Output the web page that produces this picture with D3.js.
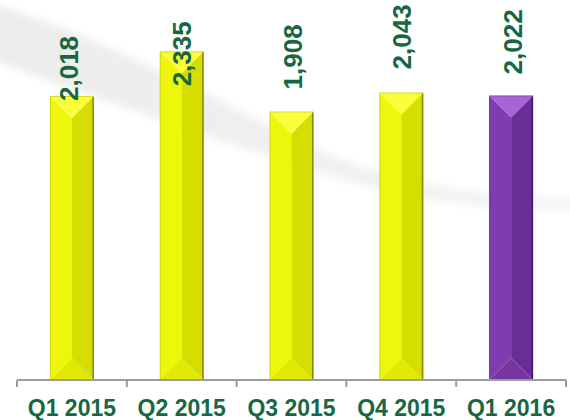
<!DOCTYPE html>
<html>
<head>
<meta charset="utf-8">
<script src="https://cdn.jsdelivr.net/npm/d3@7"></script>
<style>
  body { margin: 0; background: #fff; }
  svg { display: block; font-family: "Liberation Sans", Arial, sans-serif; }
</style>
</head>
<body>
<div id="container"></div>
<script>
const WIDTH = 570;
const HEIGHT = 420;
const AXIS_Y = 380;
const LEFT = 17;
const RIGHT = 566;

// data
var QUARTERS = ["Q1 2015", "Q2 2015", "Q3 2015", "Q4 2015", "Q1 2016"];
var VALUES = [2018, 2335, 1908, 2043, 2022];
var VALUE_LABELS = ["2,018", "2,335", "1,908", "2,043", "2,022"];
var HIGHLIGHT = ["Q1 2016"];

// label placement (px, relative to bar top / bar centre)
var LABEL_DY = [5, 35, -22, -23, -21];
var LABEL_DX = [6, 9, 10, 10, 11];

var PALETTE = {
    yellow: {left: "#edf70b", right: "#d5de00", top: "#fbff3a", bottom: "#e2e900", edge: "#8a8c00"},
    purple: {left: "#7e3cb0", right: "#6a2d98", top: "#a565d6", bottom: "#76369f", edge: "#3e1862"}
};

var xScale = d3.scaleBand()
    .domain(QUARTERS)
    .range([LEFT, RIGHT])
    .paddingInner(0.6)
    .paddingOuter(0.3);

var yScale = d3.scaleLinear()
    .domain([0, 2700])
    .range([AXIS_Y, 0]);

var tickScale = d3.scaleLinear()
    .domain([0, QUARTERS.length])
    .range([LEFT, RIGHT]);

var svg = d3.select("#container").append("svg")
    .attr("width", WIDTH)
    .attr("height", HEIGHT);

// background swoosh
var defs = svg.append("defs");
defs.append("filter").attr("id", "blur")
    .attr("x", "-10%").attr("y", "-10%").attr("width", "120%").attr("height", "130%")
    .append("feGaussianBlur").attr("stdDeviation", 4);
var grad = defs.append("linearGradient").attr("id", "swooshGrad")
    .attr("x1", "0").attr("x2", "1").attr("y1", "0").attr("y2", "0");
grad.append("stop").attr("offset", "0").attr("stop-color", "#ececec");
grad.append("stop").attr("offset", "0.55").attr("stop-color", "#f0f0f0");
grad.append("stop").attr("offset", "1").attr("stop-color", "#f4f4f4");

var swoosh = d3.path();
swoosh.moveTo(-20, 0);
swoosh.bezierCurveTo(120, 40, 260, 125, 330, 155);
swoosh.bezierCurveTo(420, 190, 500, 198, 590, 198);
swoosh.lineTo(590, 208);
swoosh.bezierCurveTo(500, 210, 420, 204, 340, 178);
swoosh.bezierCurveTo(240, 148, 120, 108, -20, 55);
swoosh.closePath();
svg.append("path")
    .attr("d", swoosh.toString())
    .attr("fill", "url(#swooshGrad)")
    .attr("filter", "url(#blur)");

// bars
var bars = svg.append("g").selectAll("g")
    .data(QUARTERS)
    .join("g");

bars.each(function (q, i) {
    var g = d3.select(this);
    var c = HIGHLIGHT.indexOf(q) >= 0 ? PALETTE.purple : PALETTE.yellow;
    var x0 = xScale(q);
    var w = xScale.bandwidth();
    var x1 = x0 + w;
    var cx = x0 + w / 2;
    var top = yScale(VALUES[i]);
    var bot = yScale(0);
    var b = w / 2;
    var poly = function (pts) { return "M" + pts.map(function (p) { return p.join(","); }).join("L") + "Z"; };

    g.append("path").attr("fill", c.left)
        .attr("d", poly([[x0, top], [cx, top + b], [cx, bot - b], [x0, bot]]));
    g.append("path").attr("fill", c.right)
        .attr("d", poly([[x1, top], [cx, top + b], [cx, bot - b], [x1, bot]]));
    g.append("path").attr("fill", c.top)
        .attr("d", poly([[x0, top], [x1, top], [cx, top + b]]));
    g.append("path").attr("fill", c.bottom)
        .attr("d", poly([[x0, bot], [x1, bot], [cx, bot - b]]));
    g.append("rect")
        .attr("x", x0 + 0.5).attr("y", top + 0.5)
        .attr("width", w - 1).attr("height", bot - top - 1)
        .attr("fill", "none")
        .attr("stroke", c.edge).attr("stroke-opacity", 0.3);
    g.append("line")
        .attr("x1", x1 - 0.75).attr("x2", x1 - 0.75)
        .attr("y1", top + 1).attr("y2", bot)
        .attr("stroke", c.edge).attr("stroke-width", 1.5);
});

// axis
var axis = svg.append("g").attr("stroke", "#9c9c9c").attr("stroke-width", 2);
axis.append("line")
    .attr("x1", LEFT).attr("x2", RIGHT)
    .attr("y1", AXIS_Y).attr("y2", AXIS_Y);
axis.selectAll(".tick")
    .data(d3.range(QUARTERS.length + 1))
    .join("line")
    .attr("class", "tick")
    .attr("x1", function (d) { return tickScale(d); })
    .attr("x2", function (d) { return tickScale(d); })
    .attr("y1", AXIS_Y).attr("y2", AXIS_Y + 7);

svg.append("g").selectAll("text")
    .data(QUARTERS)
    .join("text")
    .attr("x", function (d) { return xScale(d) + xScale.bandwidth() / 2; })
    .attr("y", 416)
    .attr("text-anchor", "middle")
    .attr("font-size", 23)
    .attr("font-weight", "bold")
    .attr("fill", "#176842")
    .text(function (d) { return d; });

// value labels
svg.append("g").selectAll("text")
    .data(QUARTERS)
    .join("text")
    .attr("transform", function (d, i) {
        var x = xScale(d) + xScale.bandwidth() / 2 + LABEL_DX[i];
        var y = yScale(VALUES[i]) + LABEL_DY[i];
        return "translate(" + x + "," + y + ") rotate(-90)";
    })
    .attr("font-size", 26)
    .attr("font-weight", "bold")
    .attr("fill", "#176842")
    .text(function (d, i) { return VALUE_LABELS[i]; });
</script>
</body>
</html>
